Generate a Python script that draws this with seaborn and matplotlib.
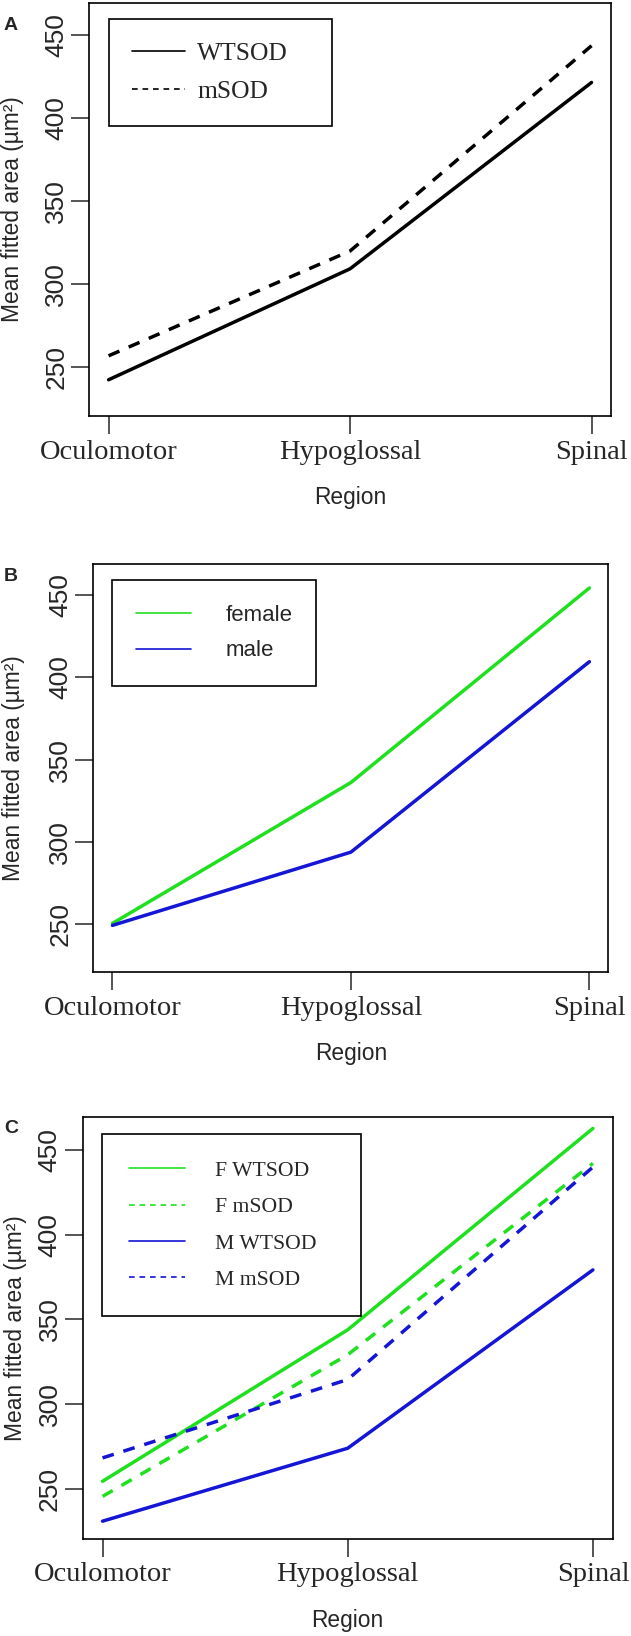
import pandas as pd
import matplotlib
matplotlib.use("Agg")
import matplotlib.pyplot as plt
import seaborn as sns

sns.set_style("white")
plt.rcParams["font.family"] = ["Liberation Sans", "DejaVu Sans"]

# Dados
regioes = ["Oculomotor", "Hypoglossal", "Spinal"]

# A: genotipo
a_wtsod = [242.6, 309.3, 421.3]
a_msod = [257.0, 320.0, 443.4]

# B: sexo
b_female = [250.6, 336.2, 454.4]
b_male = [249.4, 293.9, 409.6]

# C: sexo x genotipo
c_f_wtsod = [254.6, 343.9, 462.6]
c_f_msod = [245.7, 329.2, 442.0]
c_m_wtsod = [231.1, 274.1, 379.2]
c_m_msod = [268.4, 314.6, 439.8]

yticks = [250, 300, 350, 400, 450]

VERDE = "#1FE01F"
AZUL = "#1515D5"
SERIF = ["Liberation Serif", "DejaVu Serif"]
DASH = (3.4, 2.9)


def montar(series):
    linhas = []
    for nome, valores in series.items():
        for i, v in enumerate(valores):
            linhas.append({"Regiao": i, "Grupo": nome, "Area": v})
    return pd.DataFrame(linhas)


def formatar(ax, label_y_x):
    ax.set_xlim(-0.08, 2.08)
    ax.set_ylim(220.8, 469.2)
    ax.set_xticks(range(3))
    ax.set_xticklabels(regioes, fontfamily=SERIF, fontsize=20.5)
    ax.set_yticks(yticks)
    ax.set_yticklabels([str(t) for t in yticks], rotation=90, va="center", fontsize=19)
    ax.tick_params(axis="x", direction="out", length=12.7, width=1.1, pad=4.3, bottom=True)
    ax.tick_params(axis="y", direction="out", length=12.7, width=1.1, pad=2.5, left=True)
    for s in ax.spines.values():
        s.set_linewidth(1.2)
        s.set_color("black")
    ax.set_xlabel("Region", fontsize=16.4)
    ax.set_ylabel("Mean fitted area (µm²)", fontsize=16.4)
    h = ax.get_window_extent().height
    ax.xaxis.set_label_coords(0.5, -70 / h)
    ax.yaxis.set_label_coords(label_y_x, 0.5)


def ajustar_legenda(leg):
    for ln in leg.get_lines():
        ln.set_linewidth(1.2)
    leg.get_frame().set_linewidth(1.2)
    leg.get_frame().set_edgecolor("black")


fig = plt.figure(figsize=(6.31, 16.36), dpi=100)

# ---------- Painel A ----------
axA = fig.add_axes([0.1415, 0.7457, 0.8266, 0.2526])
dfA = montar({"WTSOD": a_wtsod, "mSOD": a_msod})
sns.lineplot(data=dfA, x="Regiao", y="Area", style="Grupo", color="black",
             dashes={"WTSOD": "", "mSOD": DASH}, linewidth=2.5, ax=axA)
formatar(axA, -0.125)
legA = axA.legend(loc="upper left", bbox_to_anchor=(0.0372, 0.4, 0.428, 0.5598),
                  mode="expand", borderaxespad=0, fancybox=False, framealpha=1,
                  prop={"family": SERIF, "size": 18.4}, handlelength=2.1,
                  handletextpad=0.47, labelspacing=0.59, borderpad=0.9)
ajustar_legenda(legA)

# ---------- Painel B ----------
axB = fig.add_axes([0.148, 0.4056, 0.8163, 0.2499])
dfB = montar({"female": b_female, "male": b_male})
sns.lineplot(data=dfB, x="Regiao", y="Area", hue="Grupo",
             palette={"female": VERDE, "male": AZUL}, linewidth=2.5, ax=axB)
formatar(axB, -0.133)
legB = axB.legend(loc="upper left", bbox_to_anchor=(0.0358, 0.4, 0.397, 0.5599),
                  mode="expand", borderaxespad=0, fancybox=False, framealpha=1,
                  prop={"size": 16}, handlelength=2.45, handletextpad=1.54,
                  labelspacing=0.66, borderpad=1.11, title=None)
ajustar_legenda(legB)

# ---------- Painel C ----------
axC = fig.add_axes([0.1314, 0.0595, 0.8393, 0.2576])
dfC = montar({"F WTSOD": c_f_wtsod, "F mSOD": c_f_msod,
              "M WTSOD": c_m_wtsod, "M mSOD": c_m_msod})
sns.lineplot(data=dfC, x="Regiao", y="Area", hue="Grupo", style="Grupo",
             palette={"F WTSOD": VERDE, "F mSOD": VERDE, "M WTSOD": AZUL, "M mSOD": AZUL},
             dashes={"F WTSOD": "", "F mSOD": DASH, "M WTSOD": "", "M mSOD": DASH},
             linewidth=2.5, ax=axC)
formatar(axC, -0.105)
legC = axC.legend(loc="upper left", bbox_to_anchor=(0.0368, 0.3, 0.4888, 0.6597),
                  mode="expand", borderaxespad=0, fancybox=False, framealpha=1,
                  prop={"family": SERIF, "size": 15.6}, handlelength=2.6,
                  handletextpad=1.39, labelspacing=0.75, borderpad=1.22)
ajustar_legenda(legC)

# Letras dos paineis
for letra, ybase in [("A", 30), ("B", 581), ("C", 1133)]:
    fig.text(4 / 631, 1 - ybase / 1636, letra, fontsize=14, fontweight="bold",
             ha="left", va="baseline")

fig.savefig("out.png", dpi=100)
